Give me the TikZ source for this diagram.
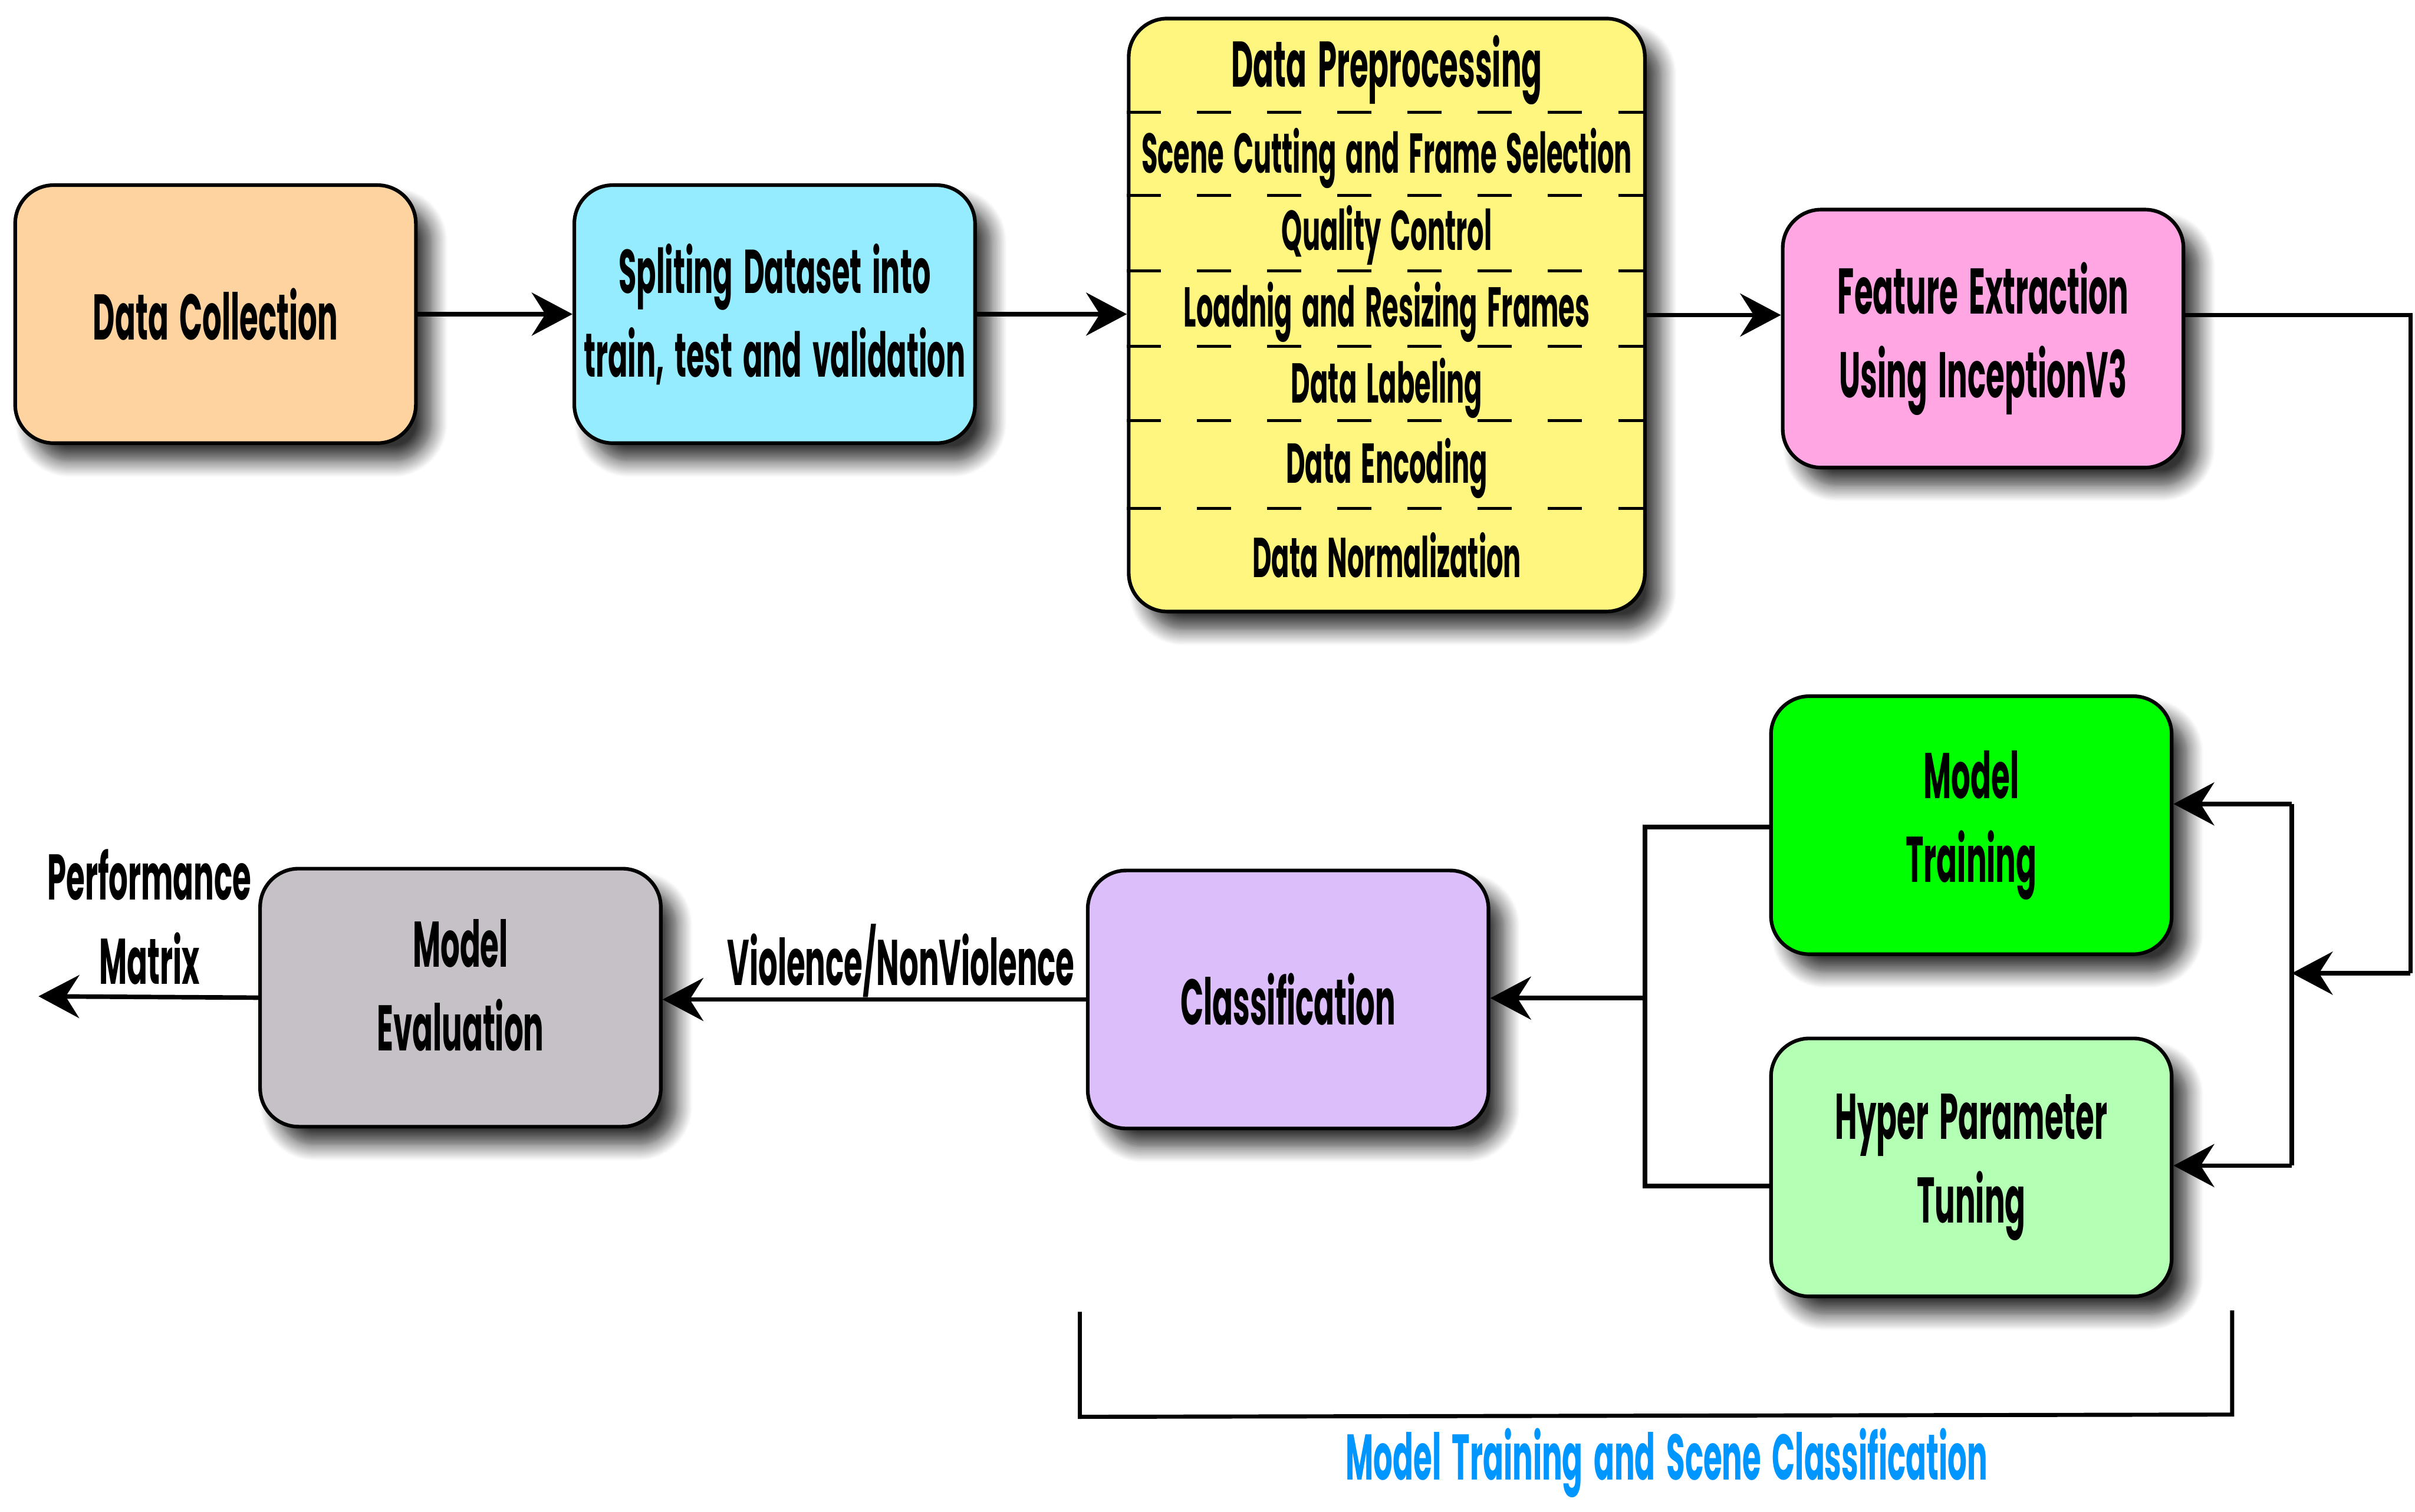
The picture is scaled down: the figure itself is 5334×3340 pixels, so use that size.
\documentclass[tikz,border=0pt]{standalone}
\usepackage{fontspec}
\setmainfont{Poppins}[FakeStretch=0.47,WordSpace=1.7]
\usetikzlibrary{arrows.meta,shadows.blur}
\definecolor{cDC}{RGB}{255,211,160}
\definecolor{cSP}{RGB}{150,236,255}
\definecolor{cPP}{RGB}{255,246,128}
\definecolor{cFE}{RGB}{255,166,227}
\definecolor{cMT}{RGB}{0,255,0}
\definecolor{cHP}{RGB}{179,255,179}
\definecolor{cCL}{RGB}{220,190,250}
\definecolor{cME}{RGB}{197,193,198}
\definecolor{cBL}{RGB}{0,150,255}
\tikzset{
  txt/.style={font=\bfseries\fontsize{28.5}{37}\selectfont, align=center, inner sep=0pt},
  itm/.style={font=\bfseries\fontsize{24.8}{33}\selectfont, align=center, inner sep=0pt},
  box/.style={draw=black, line width=1.6pt, rounded corners=17pt,
    minimum width=177pt, minimum height=114pt, align=center, inner sep=1pt,
    font=\bfseries\fontsize{28.5}{37}\selectfont,
    blur shadow={shadow xshift=7pt, shadow yshift=-8pt, shadow blur radius=7pt, shadow blur steps=12, shadow opacity=80}},
  arr/.style={line width=2pt, -{Stealth[length=18pt, width=19pt, inset=6pt]}},
  conn/.style={line width=2pt},
  sep/.style={line width=1.3pt, dash pattern=on 15pt off 16pt},
}
\begin{document}
\begin{tikzpicture}[x=0.2pt,y=-0.2pt]
\useasboundingbox (0,0) rectangle (5334,3340);
% boxes
\node[box, fill=cDC] (DC) at (476,694) {Data Collection};
\node[box, fill=cSP, font=\bfseries\fontsize{27.3}{37}\selectfont] (SP) at (1711,694) {Spliting Dataset into\\train, test and validation};
\node[box, fill=cPP, minimum width=228pt, minimum height=262pt] (PP) at (3063,696) {};
\node[box, fill=cFE] (FE) at (4380,748) {Feature Extraction\\Using InceptionV3};
\node[box, fill=cMT] (MT) at (4354,1823) {Model\\Training};
\node[box, fill=cHP] (HP) at (4354,2579) {Hyper Parameter\\Tuning};
\node[box, fill=cCL] (CL) at (2845,2208) {Classification};
\node[box, fill=cME, text depth=11pt] (ME) at (1017,2204) {Model\\Evaluation};
% preprocessing contents
\node[txt] (pp1) at (3063,155) {Data Preprocessing};
\node[itm] (pp2) at (3063,350) {Scene Cutting and Frame Selection};
\node[itm] (pp3) at (3063,520) {Quality Control};
\node[itm] (pp4) at (3063,690) {Loadnig and Resizing Frames};
\node[itm] (pp5) at (3063,857) {Data Labeling};
\node[itm] (pp6) at (3063,1034) {Data Encoding};
\node[itm] (pp7) at (3063,1226) {Data Normalization};
\foreach \yy in {248,432,599,765,929,1123}{
  \draw[sep] (PP.west |- 0,\yy) -- (PP.east |- 0,\yy);
}
% top row arrows
\draw[arr] (DC.east) -- (SP.west);
\draw[arr] (SP.east) -- (SP.east -| PP.west);
\draw[arr] (PP.east) -- (PP.east -| FE.west);
% right loop
\coordinate (r1) at (5324,696);
\coordinate (r2) at (5324,2150);
\coordinate (jm) at (5062,2150);
\coordinate (jt) at (5062,1776);
\coordinate (jb) at (5062,2575);
\draw[conn] (FE.east |- r1) -- (r1) -- (r2);
\draw[arr] (r2) -- (jm);
\draw[conn] (jt) -- (jb);
\draw[arr] (jt) -- (jt -| MT.east);
\draw[arr] (jb) -- (jb -| HP.east);
% left join
\coordinate (lt) at (3633,1827);
\coordinate (lb) at (3633,2620);
\coordinate (lm) at (3633,2205);
\draw[conn] (MT.west |- lt) -- (lt) -- (lb) -- (HP.west |- lb);
\draw[arr] (lm) -- (lm -| CL.east);
% bottom row
\draw[arr] (CL.west) -- (CL.west -| ME.east);
\node[txt] (vl) at (1990,2122) {Violence/NonViolence};
\coordinate (out) at (85,2201);
\draw[arr] (ME.west) -- (out);
\node[txt] (pm1) at (330,1933) {Performance};
\node[txt] (pm2) at (330,2117) {Matrix};
% bracket
\coordinate (b1) at (2385,2898);
\coordinate (b2) at (2385,3130);
\coordinate (b3) at (4930,3125);
\coordinate (b4) at (4930,2895);
\draw[line width=1.8pt] (b1) -- (b2) -- (b3) -- (b4);
\node[txt, text=cBL] (bl) at (3681,3232) {Model Training and Scene Classification};
\end{tikzpicture}
\end{document}
